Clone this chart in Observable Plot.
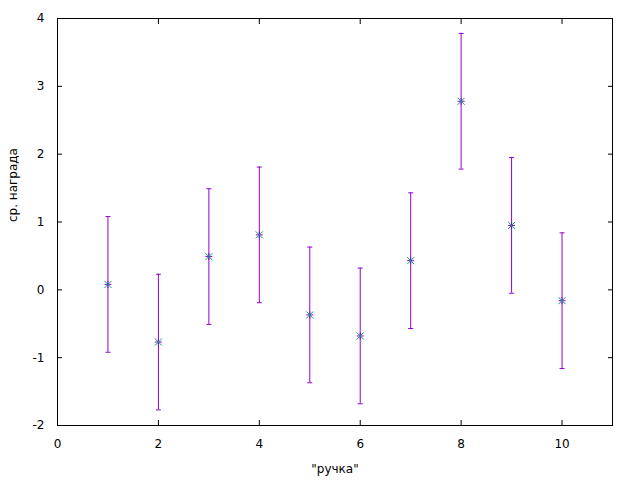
<!DOCTYPE html>
<html>
<head>
<meta charset="utf-8">
<script src="https://cdn.jsdelivr.net/npm/d3@7"></script>
<script src="https://cdn.jsdelivr.net/npm/@observablehq/plot@0.6"></script>
<style>
  html, body { margin: 0; padding: 0; background: #fff; }
  svg { display: block; }
</style>
</head>
<body>
<div id="chart"></div>
<script>
const arms = [1, 2, 3, 4, 5, 6, 7, 8, 9, 10];
const means = [0.08, -0.77, 0.49, 0.81, -0.37, -0.68, 0.43, 2.78, 0.95, -0.16];
const errs = [1, 1, 1, 1, 1, 1, 1, 1, 1, 1];
const xTicks = [0, 2, 4, 6, 8, 10];
const yTicks = [-2, -1, 0, 1, 2, 3, 4];
const xLabel = '"ручка"';
const yLabel = "ср. награда";

const data = arms.map((a, i) => ({x: a, y: means[i], lo: means[i] - errs[i], hi: means[i] + errs[i]}));

const PURPLE = "#9400d3";
const GREEN = "#009e73";

const rad = (size) => Math.sqrt(size / Math.PI);
const capSym = {draw(ctx, size) { const r = rad(size); ctx.moveTo(-r, 0); ctx.lineTo(r, 0); }};
const plusSym = {draw(ctx, size) { const r = rad(size); ctx.moveTo(-r, 0); ctx.lineTo(r, 0); ctx.moveTo(0, -r); ctx.lineTo(0, r); }};
const timesSym = {draw(ctx, size) { const r = rad(size); ctx.moveTo(-r, -r); ctx.lineTo(r, r); ctx.moveTo(-r, r); ctx.lineTo(r, -r); }};

const font = "DejaVu Sans, sans-serif";
const intFmt = d => String(d);

const chart = Plot.plot({
  width: 640,
  height: 480,
  marginLeft: 57,
  marginRight: 28,
  marginTop: 18,
  marginBottom: 55,
  style: {fontFamily: font, fontSize: "12px", color: "#000", background: "#fff"},
  x: {domain: [0, 11]},
  y: {domain: [-2, 4]},
  marks: [
    Plot.axisX({anchor: "bottom", ticks: xTicks, tickSize: 0, tickPadding: 14, tickFormat: intFmt, label: null, fontSize: 12}),
    Plot.axisY({anchor: "left", ticks: yTicks, tickSize: 0, tickPadding: 13, tickFormat: intFmt, label: null, fontSize: 12}),
    Plot.axisX({anchor: "bottom", ticks: xTicks, tickSize: -5, tickFormat: () => "", label: null}),
    Plot.axisX({anchor: "top", ticks: xTicks, tickSize: -5, tickFormat: () => "", label: null}),
    Plot.axisY({anchor: "left", ticks: yTicks, tickSize: -5, tickFormat: () => "", label: null}),
    Plot.axisY({anchor: "right", ticks: yTicks, tickSize: -5, tickFormat: () => "", label: null}),
    Plot.frame({stroke: "#000", strokeWidth: 1}),
    Plot.ruleX(data, {x: "x", y1: "lo", y2: "hi", stroke: PURPLE, strokeWidth: 1}),
    Plot.dot(data, {x: "x", y: "lo", symbol: capSym, r: 2.5, stroke: PURPLE, strokeWidth: 1}),
    Plot.dot(data, {x: "x", y: "hi", symbol: capSym, r: 2.5, stroke: PURPLE, strokeWidth: 1}),
    Plot.dot(data, {x: "x", y: "y", symbol: plusSym, r: 3.5, stroke: PURPLE, strokeWidth: 1}),
    Plot.dot(data, {x: "x", y: "y", symbol: timesSym, r: 3.5, stroke: GREEN, strokeWidth: 1}),
    Plot.text([xLabel], {frameAnchor: "bottom", dy: 44, text: d => d, fontSize: 12, lineAnchor: "middle"}),
    Plot.text([yLabel], {frameAnchor: "left", dx: -44, rotate: -90, text: d => d, fontSize: 12, lineAnchor: "middle"})
  ]
});
document.getElementById("chart").appendChild(chart);
</script>
</body>
</html>
